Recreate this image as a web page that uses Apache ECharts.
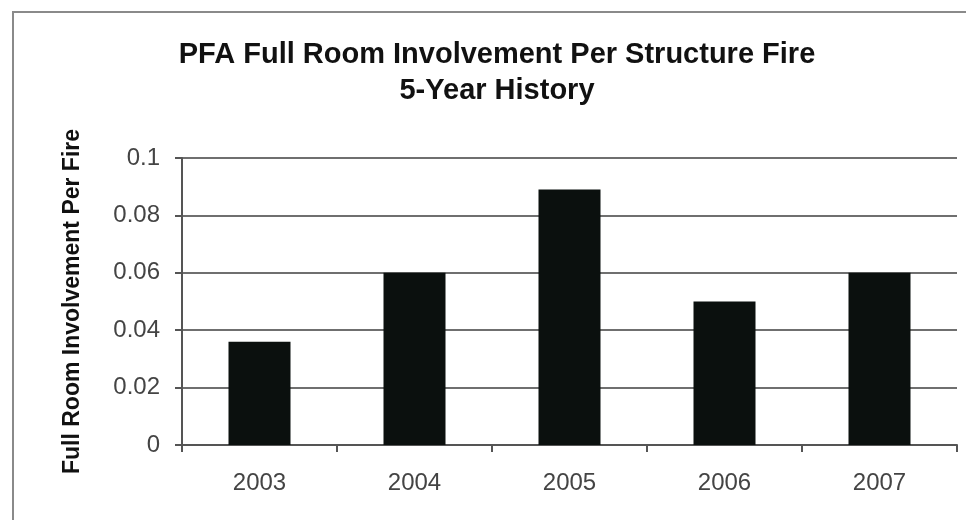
<!DOCTYPE html>
<html>
<head>
<meta charset="utf-8">
<script src="https://cdn.jsdelivr.net/npm/echarts@6/dist/echarts.min.js"></script>
<style>
  html, body { margin: 0; padding: 0; background: #fff; }
  #chart { width: 966px; height: 520px; }
</style>
</head>
<body>
<div id="chart"></div>
<script>
// Full room involvement per structure fire, by year
const years = ['2003', '2004', '2005', '2006', '2007'];
const involvementPerFire = [0.036, 0.06, 0.089, 0.05, 0.06];
const yTicks = { min: 0, max: 0.1, interval: 0.02 };

const titleLines = ['PFA Full Room Involvement Per Structure Fire', '5-Year History'];
const yAxisTitle = 'Full Room Involvement Per Fire';

const chart = echarts.init(document.getElementById('chart'));
const font = 'Arial, "Liberation Sans", sans-serif';

chart.setOption({
  backgroundColor: '#ffffff',
  animation: false,
  title: {
    text: titleLines.join('\n'),
    left: 492,
    textAlign: 'center',
    top: 32,
    textStyle: {
      fontFamily: font,
      fontWeight: 'bold',
      fontSize: 29,
      lineHeight: 36,
      color: '#111'
    }
  },
  graphic: [{
    type: 'rect',
    shape: { x: 13, y: 12, width: 1000, height: 600 },
    style: { fill: 'none', stroke: '#8a8a8a', lineWidth: 2 },
    silent: true
  }],
  grid: { left: 182, right: 9, top: 158, bottom: 75 },
  xAxis: {
    type: 'category',
    data: years,
    axisLine: { lineStyle: { color: '#555', width: 2 } },
    axisTick: { show: true, length: 7, lineStyle: { color: '#555', width: 2 } },
    axisLabel: {
      fontFamily: font,
      fontSize: 24,
      color: '#444',
      margin: 26
    }
  },
  yAxis: {
    type: 'value',
    min: yTicks.min,
    max: yTicks.max,
    interval: yTicks.interval,
    name: yAxisTitle,
    nameLocation: 'middle',
    nameGap: 98,
    nameTextStyle: {
      fontFamily: font,
      fontWeight: 'bold',
      fontSize: 23,
      color: '#111'
    },
    axisLine: { show: true, lineStyle: { color: '#555', width: 2 } },
    axisTick: { show: true, length: 7, lineStyle: { color: '#555', width: 2 } },
    axisLabel: {
      fontFamily: font,
      fontSize: 24,
      color: '#444',
      margin: 22,
      formatter: v => String(+v.toFixed(2))
    },
    splitLine: { show: true, lineStyle: { color: '#6f6f6f', width: 2 } }
  },
  series: [{
    type: 'bar',
    data: involvementPerFire,
    barWidth: 62,
    itemStyle: { color: '#0b100e' }
  }]
});
</script>
</body>
</html>
